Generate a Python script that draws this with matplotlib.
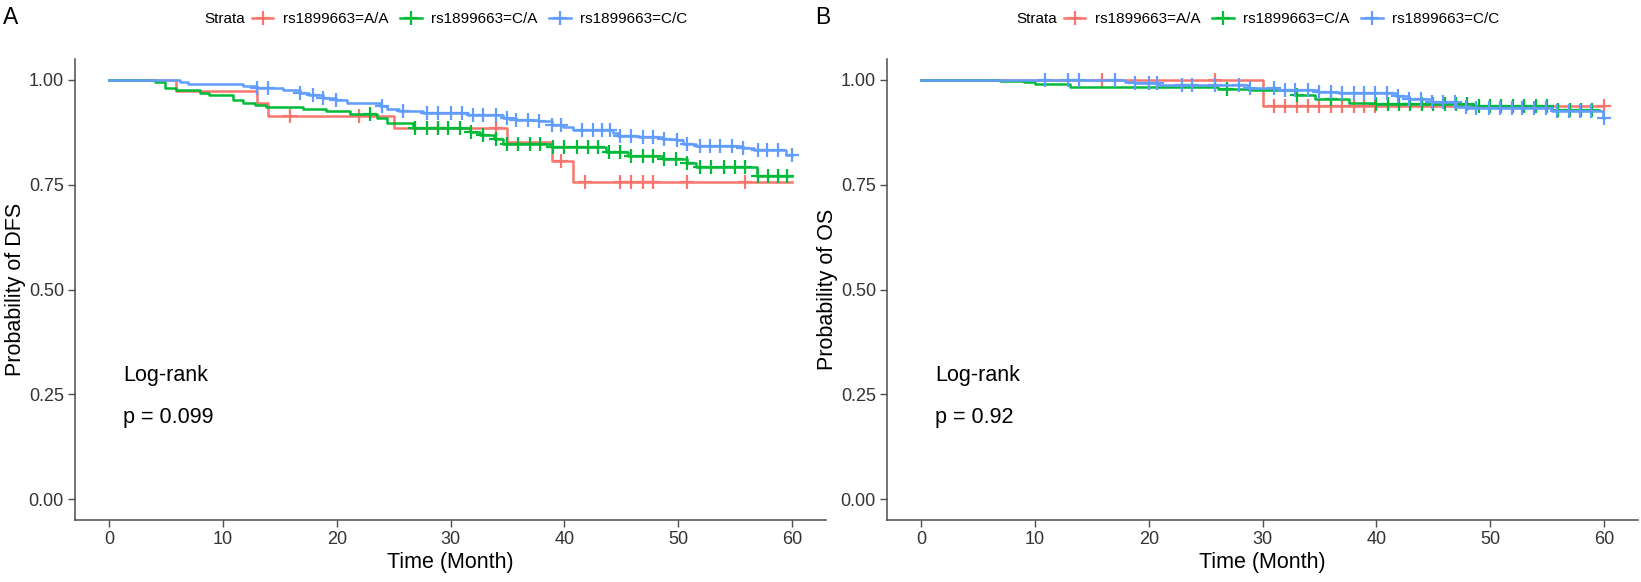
import numpy as np
import matplotlib
matplotlib.use("Agg")
import matplotlib.pyplot as plt
from matplotlib.lines import Line2D

plt.rcParams['font.family'] = ['Liberation Sans', 'DejaVu Sans']

# ---------------- data ----------------
strata = ["rs1899663=A/A", "rs1899663=C/A", "rs1899663=C/C"]
colors = ["#F8766D", "#00BA38", "#619CFF"]

# Panel A: DFS  (event times, survival after each step, end of follow-up)
dfs_aa_t = [0, 5.9, 13.0, 14.0, 25.0, 35.0, 38.9, 40.8]
dfs_aa_s = [1.0, 0.974, 0.944, 0.913, 0.885, 0.851, 0.806, 0.756]
dfs_aa_end = 60.0
dfs_aa_cens = [15.9, 22.0, 28.9, 34.0, 39.7, 41.8, 44.9, 45.9, 46.9, 47.8, 50.8, 55.9]

dfs_ca_t = [0, 4.0, 4.9, 5.9, 8.0, 8.8, 10.9, 11.8, 12.8, 13.8, 17.0, 19.1, 21.2, 23.5, 24.4,
            26.7, 31.7, 32.6, 33.8, 34.6, 38.9, 43.7, 45.6, 48.7, 50.8, 51.6, 56.9]
dfs_ca_s = [1.0, 0.996, 0.980, 0.975, 0.968, 0.963, 0.952, 0.946, 0.940, 0.936, 0.930, 0.925, 0.919,
            0.909, 0.897, 0.885, 0.877, 0.869, 0.859, 0.847, 0.841, 0.829, 0.819, 0.811, 0.802,
            0.792, 0.770]
dfs_ca_end = 60.0
dfs_ca_cens = [22.9, 26.9, 27.9, 28.9, 29.8, 30.8, 31.8, 32.9, 34.0, 35.0, 35.9, 37.0, 37.9, 39.0,
               40.0, 41.1, 42.1, 43.0, 43.9, 44.9, 45.9, 46.9, 47.8, 48.8, 49.8, 50.8, 51.9, 52.9,
               54.0, 55.0, 55.9, 57.0, 57.9, 58.8, 59.6]

dfs_cc_t = [0, 6.2, 6.9, 11.8, 13.0, 15.3, 16.8, 17.6, 18.8, 19.9, 20.9, 23.8, 24.4, 25.5, 27.6,
            31.5, 34.6, 35.8, 37.8, 38.9, 39.9, 40.8, 44.3, 44.7, 46.6, 48.7, 49.8, 50.4, 51.6,
            55.7, 56.7, 59.5]
dfs_cc_s = [1.0, 0.994, 0.990, 0.986, 0.980, 0.975, 0.968, 0.964, 0.956, 0.952, 0.946, 0.938,
            0.930, 0.926, 0.922, 0.916, 0.909, 0.905, 0.901, 0.893, 0.887, 0.881, 0.873, 0.867,
            0.863, 0.860, 0.856, 0.848, 0.843, 0.837, 0.832, 0.822]
dfs_cc_end = 60.0
dfs_cc_cens = [13.0, 14.0, 16.8, 17.9, 18.8, 19.9, 24.0, 25.8, 27.9, 28.9, 30.0, 31.0, 32.0, 32.9,
               34.0, 35.0, 35.8, 36.8, 37.8, 38.9, 39.7, 41.6, 42.5, 43.3, 44.0, 44.9, 45.9, 46.9,
               47.8, 48.8, 49.9, 50.8, 51.9, 52.8, 53.7, 54.7, 55.7, 57.0, 57.8, 58.8, 60.0]

# Panel B: OS
os_aa_t = [0, 30.0]
os_aa_s = [1.0, 0.939]
os_aa_end = 60.0
os_aa_cens = [15.9, 25.8, 31.0, 32.0, 33.0, 34.0, 35.0, 36.0, 37.0, 38.0, 38.9, 39.9, 60.0]

os_ca_t = [0, 6.9, 9.0, 10.0, 13.1, 26.1, 28.8, 32.9, 34.6, 37.6, 39.9, 48.7, 55.4]
os_ca_s = [1.0, 0.998, 0.994, 0.990, 0.983, 0.978, 0.975, 0.964, 0.954, 0.946, 0.942, 0.939, 0.928]
os_ca_end = 59.6
os_ca_cens = [26.9, 33.0, 36.0, 40.0, 41.0, 42.0, 43.0, 44.0, 45.0, 46.0, 47.0, 48.0, 49.0, 50.0,
              51.0, 52.0, 53.0, 54.0, 55.0, 56.0, 57.0, 58.0, 59.0]

os_cc_t = [0, 17.9, 18.8, 20.9, 28.8, 31.4, 34.9, 36.7, 41.7, 42.9, 44.9, 47.0, 48.0, 55.4, 59.9]
os_cc_s = [1.0, 0.996, 0.992, 0.988, 0.980, 0.976, 0.972, 0.970, 0.962, 0.954, 0.948, 0.936,
           0.932, 0.925, 0.910]
os_cc_end = 60.0
os_cc_cens = [10.9, 12.9, 13.9, 17.0, 18.8, 20.0, 20.7, 22.9, 23.8, 25.8, 27.9, 28.9, 31.0, 32.0,
              32.9, 34.0, 35.0, 36.0, 37.0, 38.0, 38.9, 39.9, 40.9, 41.9, 42.9, 43.9, 44.9, 45.9,
              46.9, 47.9, 48.8, 49.9, 50.9, 51.9, 52.8, 53.9, 54.9, 55.9, 56.9, 57.9, 58.9, 60.0]

x_ticks = [0, 10, 20, 30, 40, 50, 60]
y_ticks = [0.00, 0.25, 0.50, 0.75, 1.00]
y_ticklabels = ["0.00", "0.25", "0.50", "0.75", "1.00"]
panels = [
    dict(letter="A", ylabel="Probability of DFS", pval="p = 0.099",
         curves=[(dfs_aa_t, dfs_aa_s, dfs_aa_end, dfs_aa_cens),
                 (dfs_ca_t, dfs_ca_s, dfs_ca_end, dfs_ca_cens),
                 (dfs_cc_t, dfs_cc_s, dfs_cc_end, dfs_cc_cens)]),
    dict(letter="B", ylabel="Probability of OS", pval="p = 0.92",
         curves=[(os_aa_t, os_aa_s, os_aa_end, os_aa_cens),
                 (os_ca_t, os_ca_s, os_ca_end, os_ca_cens),
                 (os_cc_t, os_cc_s, os_cc_end, os_cc_cens)]),
]

# ---------------- figure ----------------
W, H = 1641, 582
fig = plt.figure(figsize=(W / 100, H / 100), dpi=100)

ax_left_px = [75, 887]
ax_w_px = 751
ax_bottom = 1 - 520 / H
ax_h = (520 - 59) / H
offset_px = [0, 812]

axis_col = "#4d4d4d"
text_col = "#333333"

for k, p in enumerate(panels):
    ax = fig.add_axes([ax_left_px[k] / W, ax_bottom, ax_w_px / W, ax_h])
    for i, (t, s, end, cens) in enumerate(p["curves"]):
        tt = list(t) + [end]
        ss = list(s) + [s[-1]]
        ax.step(tt, ss, where="post", color=colors[i], lw=1.8, zorder=2 + i)
        idx = np.searchsorted(np.array(t), np.array(cens), side="right") - 1
        cy = np.array(s)[idx]
        ax.plot(cens, cy, ls="none", marker="+", ms=9.5, mew=1.6, color=colors[i], zorder=2 + i)

    ax.set_xlim(-3, 63)
    ax.set_ylim(-0.05, 1.05)
    ax.set_xticks(x_ticks)
    ax.set_yticks(y_ticks)
    ax.set_yticklabels(y_ticklabels)
    for sp in ["top", "right"]:
        ax.spines[sp].set_visible(False)
    for sp in ["left", "bottom"]:
        ax.spines[sp].set_color(axis_col)
        ax.spines[sp].set_linewidth(1.1)
    ax.tick_params(axis="both", colors=axis_col, length=5, width=1.0,
                   labelsize=13, labelcolor=text_col, pad=3)
    ax.set_xlabel("Time (Month)", fontsize=15.5, color="black", labelpad=3)
    ax.set_ylabel(p["ylabel"], fontsize=15.5, color="black", labelpad=2)

    ax.text(1.2, 0.294, "Log-rank", fontsize=15.5, ha="left", va="center", color="black")
    ax.text(1.2, 0.194, p["pval"], fontsize=15.5, ha="left", va="center", color="black")

    off = offset_px[k]
    fig.text((3 + off) / W, 1 - 17 / H, p["letter"], fontsize=16.5, ha="left", va="center")

    # legend on top
    fig.text((245 + off) / W, 1 - 19 / H, "Strata", fontsize=11, ha="right", va="center",
             color="black")
    handles = [Line2D([0], [0], color=c, lw=1.8, marker="+", ms=9.5, mew=1.6) for c in colors]
    fig.legend(handles, strata, loc="center left",
               bbox_to_anchor=((252 + off) / W, 1 - 19 / H), ncol=3, frameon=False,
               fontsize=11, handlelength=1.4, handletextpad=0.6, columnspacing=0.8,
               borderpad=0, borderaxespad=0)

fig.savefig("out.png", dpi=100, facecolor="white")
